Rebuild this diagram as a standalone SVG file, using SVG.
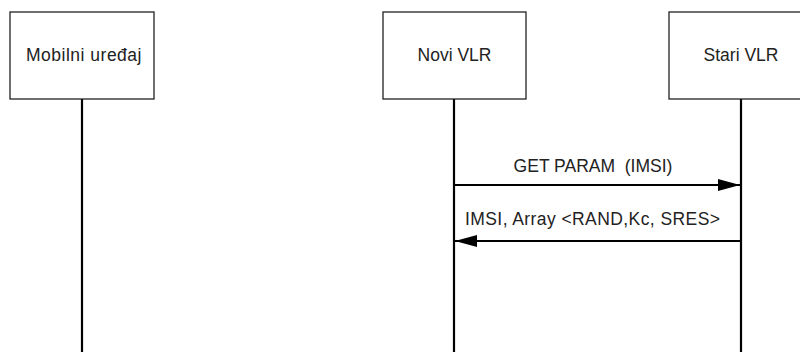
<svg xmlns="http://www.w3.org/2000/svg" width="800" height="352" viewBox="0 0 800 352">
<style>
.box{fill:#fff;stroke:#222;stroke-width:1.3}
.life{stroke:#000;stroke-width:2.2}
.msg{stroke:#000;stroke-width:2.2;fill:none}
text{font-family:"Liberation Sans",Arial,sans-serif;font-size:17.5px;fill:#222}
</style>
<defs>
<marker id="ah" viewBox="0 0 22 12" refX="22" refY="6" markerWidth="22" markerHeight="12" markerUnits="userSpaceOnUse" orient="auto">
<path d="M0,0 L22,6 L0,12 Z" fill="#000"/>
</marker>
</defs>
<rect width="800" height="352" fill="#fff"/>
<g id="lifelines">
<line class="life" x1="82" y1="99" x2="82" y2="352"/>
<line class="life" x1="454" y1="99" x2="454" y2="352"/>
<line class="life" x1="741" y1="99" x2="741" y2="352"/>
</g>
<g id="mobilni">
<rect class="box" x="10" y="12" width="144" height="87"/>
<text x="84" y="61" text-anchor="middle" letter-spacing="0.5">Mobilni uređaj</text>
</g>
<g id="novi">
<rect class="box" x="383" y="12" width="143" height="87"/>
<text x="454.5" y="61" text-anchor="middle">Novi VLR</text>
</g>
<g id="stari">
<rect class="box" x="669" y="12" width="144" height="87"/>
<text x="741" y="61" text-anchor="middle">Stari VLR</text>
</g>
<g id="connectors">
<line class="msg" x1="454" y1="185" x2="740" y2="185" marker-end="url(#ah)"/>
<text x="593" y="172" text-anchor="middle" xml:space="preserve">GET PARAM  (IMSI)</text>
<line class="msg" x1="741" y1="241" x2="455" y2="241" marker-end="url(#ah)"/>
<text x="465" y="225" textLength="255" lengthAdjust="spacing">IMSI, Array &lt;RAND,Kc, SRES&gt;</text>
</g>
</svg>
